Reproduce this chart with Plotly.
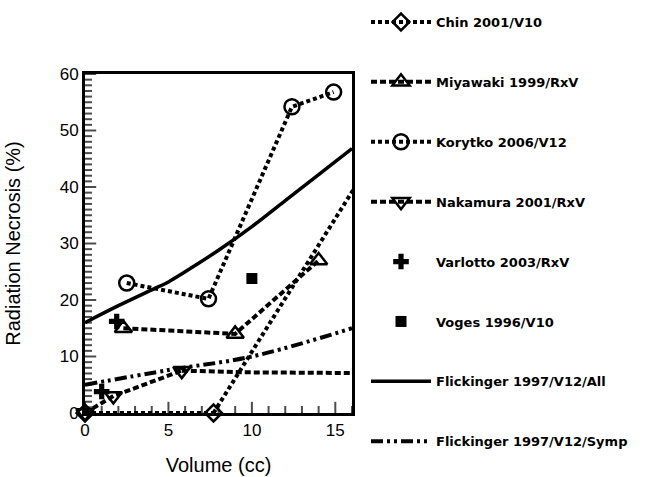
import plotly.graph_objects as go

# ---- data ----
chin_x = [0.0, 7.7]
chin_y = [0.0, 0.0]
chin_ext_x = [7.7, 20.0]
chin_ext_y = [0.0, 58.0]

miyawaki_x = [2.3, 9.0, 14.0]
miyawaki_y = [15.0, 14.0, 27.0]

korytko_x = [2.5, 7.4, 12.4, 14.9]
korytko_y = [23.0, 20.2, 54.2, 56.8]

nakamura_x = [0.0, 1.7, 5.8]
nakamura_y = [0.0, 3.0, 7.5]
nakamura_ext_x = [5.8, 9.5, 20.0]
nakamura_ext_y = [7.5, 7.2, 7.0]

varlotto_x = [1.0, 1.9]
varlotto_y = [3.8, 16.2]

voges_x = [10.0]
voges_y = [23.8]

flick_all_x = [0, 2, 4, 5, 6, 8, 10, 12, 14, 16]
flick_all_y = [16.0, 19.0, 21.8, 23.2, 25.0, 28.8, 33.0, 37.6, 42.2, 46.8]

flick_symp_x = [0, 5, 10, 16]
flick_symp_y = [5.0, 7.6, 10.0, 15.0]

x_ticks = [0, 5, 10, 15]
y_ticks = [0, 10, 20, 30, 40, 50, 60]
x_minor = list(range(0, 17))
y_minor = list(range(0, 61))

BLACK = "black"
DOT = "4px,3px"
DASH = "6px,3px"
SYMP = "12px,4px,3px,4px,3px,4px"
FONT = "Liberation Sans, Arial, sans-serif"
LFONT = "DejaVu Sans, sans-serif"

fig = go.Figure()

def series(x, y, name, symbol, size, dash, group):
    fig.add_trace(go.Scatter(
        x=x, y=y, name=name, mode="lines+markers", legendgroup=group,
        line=dict(color=BLACK, width=4, dash=dash),
        marker=dict(symbol=symbol, size=size, color=BLACK, line=dict(color=BLACK, width=2.5)),
        cliponaxis=False))

def ext(x, y, dash, group):
    fig.add_trace(go.Scatter(
        x=x, y=y, mode="lines", showlegend=False, legendgroup=group,
        line=dict(color=BLACK, width=4, dash=dash), cliponaxis=True))

# inside tick marks: half of each line marker is clipped away by the plot area
fig.add_trace(go.Scatter(
    x=x_minor, y=[0] * len(x_minor), mode="markers", showlegend=False, hoverinfo="skip",
    marker=dict(symbol="line-ns-open", size=[16 if v in x_ticks else 10 for v in x_minor],
                color=BLACK, line=dict(color=BLACK, width=2)),
    cliponaxis=True))
fig.add_trace(go.Scatter(
    x=[0] * len(y_minor), y=y_minor, mode="markers", showlegend=False, hoverinfo="skip",
    marker=dict(symbol="line-ew-open", size=[16 if v in y_ticks else 10 for v in y_minor],
                color=BLACK, line=dict(color=BLACK, width=2)),
    cliponaxis=True))

ext(chin_ext_x, chin_ext_y, DOT, "chin")
series(chin_x, chin_y, "Chin 2001/V10", "diamond-open", 13, DOT, "chin")
series(miyawaki_x, miyawaki_y, "Miyawaki 1999/RxV", "triangle-up-open", 15, DASH, "miy")
series(korytko_x, korytko_y, "Korytko 2006/V12", "circle-open", 15, DOT, "kor")
ext(nakamura_ext_x, nakamura_ext_y, DASH, "nak")
series(nakamura_x, nakamura_y, "Nakamura 2001/RxV", "triangle-down-open", 15, DASH, "nak")

fig.add_trace(go.Scatter(
    x=varlotto_x, y=varlotto_y, name="Varlotto 2003/RxV", mode="markers", legendgroup="var",
    marker=dict(symbol="cross", size=13, color=BLACK), cliponaxis=False))
fig.add_trace(go.Scatter(
    x=voges_x, y=voges_y, name="Voges 1996/V10", mode="markers", legendgroup="vog",
    marker=dict(symbol="square", size=11, color=BLACK), cliponaxis=False))
fig.add_trace(go.Scatter(
    x=flick_all_x, y=flick_all_y, name="Flickinger 1997/V12/All", mode="lines",
    legendgroup="fa", line=dict(color=BLACK, width=3.5, shape="spline"), cliponaxis=True))
fig.add_trace(go.Scatter(
    x=flick_symp_x, y=flick_symp_y, name="Flickinger 1997/V12/Symp", mode="lines",
    legendgroup="fs", line=dict(color=BLACK, width=4, dash=SYMP, shape="spline"), cliponaxis=True))

axis_font = dict(family=FONT, size=17, color=BLACK)

fig.update_layout(
    width=649, height=477,
    margin=dict(l=85, r=297, t=74, b=64, autoexpand=False),
    paper_bgcolor="white", plot_bgcolor="white",
    font=dict(family=FONT, color=BLACK),
    showlegend=True,
    legend=dict(x=(366 - 85) / 267, xanchor="left", y=1 + (74 - 7) / 339, yanchor="top",
                font=dict(family=LFONT, size=13, color=BLACK, weight="bold"),
                tracegroupgap=40, itemwidth=60, bgcolor="rgba(0,0,0,0)",
                traceorder="grouped", maxheight=700),
    xaxis=dict(range=[0, 16], tickmode="array", tickvals=x_ticks, ticks="",
               showline=True, linewidth=3, linecolor=BLACK, mirror=True,
               showgrid=False, zeroline=False, tickfont=axis_font,
               title=dict(text="Volume (cc)", font=dict(size=20, color=BLACK, family=FONT),
                          standoff=19)),
    yaxis=dict(range=[0, 60], tickmode="array", tickvals=y_ticks, ticks="",
               showline=True, linewidth=3, linecolor=BLACK, mirror=True,
               showgrid=False, zeroline=False, tickfont=axis_font,
               title=dict(text="Radiation Necrosis (%)", font=dict(size=20, color=BLACK,
                          family=FONT), standoff=34)),
)

fig.write_html("out.html", post_script="document.body.style.margin='0px';",
               config={"displayModeBar": False})
